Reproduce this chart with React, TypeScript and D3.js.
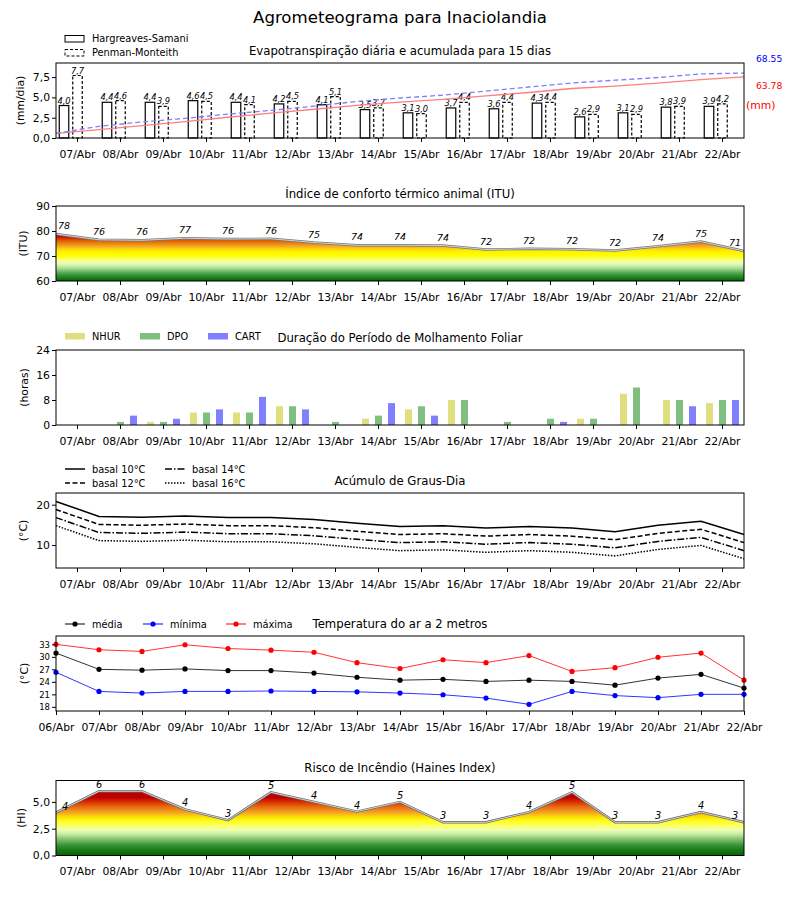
import { useEffect, useRef } from 'react';
import * as d3 from 'd3';

const FONT = 'DejaVu Sans';

const days = ['07/Abr', '08/Abr', '09/Abr', '10/Abr', '11/Abr', '12/Abr', '13/Abr', '14/Abr',
  '15/Abr', '16/Abr', '17/Abr', '18/Abr', '19/Abr', '20/Abr', '21/Abr', '22/Abr'];
const daysEdge = ['06/Abr', ...days];

// evapotranspiracao (mm/dia)
const etHargreaves = [4.0, 4.4, 4.4, 4.6, 4.4, 4.2, 4.1, 3.5, 3.1, 3.7, 3.6, 4.3, 2.6, 3.1, 3.8, 3.9];
const etPenman = [7.7, 4.6, 3.9, 4.5, 4.1, 4.5, 5.1, 3.7, 3.0, 4.4, 4.4, 4.4, 2.9, 2.9, 3.9, 4.2];
const etHargreavesAcum = [0, 4.0, 8.4, 12.8, 17.4, 21.8, 26.0, 30.1, 33.6, 36.7, 40.4, 44.0, 48.3, 50.9, 54.0, 57.8, 60.7];
const etPenmanAcum = [0, 7.7, 12.3, 16.2, 20.7, 24.8, 29.3, 34.4, 38.1, 41.1, 45.5, 49.9, 54.3, 57.2, 60.1, 64.0, 64.9];
const totalPenman = '68.55';
const totalHargreaves = '63.78';

// ITU
const itu = [78.8, 76.5, 76.3, 77.1, 76.8, 76.9, 75.4, 74.3, 74.3, 74.2, 72.6, 72.9, 72.7, 72.2, 73.9, 75.8, 72.0];
const ituLabels = [78, 76, 76, 77, 76, 76, 75, 74, 74, 74, 72, 72, 72, 72, 74, 75, 71];

// molhamento foliar (horas)
const nhur = [0, 0, 1, 4, 4, 6, 0, 2, 5, 8, 0, 0, 2, 10, 8, 7];
const dpo = [0, 1, 1, 4, 4, 6, 1, 3, 6, 8, 1, 2, 2, 12, 8, 8];
const cart = [0, 3, 2, 5, 9, 5, 0, 7, 3, 0, 0, 1, 0, 0, 6, 8];

// graus-dia
const gd10 = [20.8, 17.1, 16.9, 17.2, 16.8, 16.8, 16.3, 15.4, 14.6, 14.8, 14.2, 14.6, 14.2, 13.3, 14.9, 15.9, 12.6];
const gd12 = [18.8, 15.1, 14.9, 15.2, 14.8, 14.8, 14.3, 13.4, 12.6, 12.8, 12.2, 12.6, 12.2, 11.3, 12.9, 13.9, 10.6];
const gd14 = [16.8, 13.1, 12.9, 13.2, 12.8, 12.8, 12.3, 11.4, 10.6, 10.8, 10.2, 10.6, 10.2, 9.3, 10.9, 11.9, 8.6];
const gd16 = [14.8, 11.1, 10.9, 11.2, 10.8, 10.8, 10.3, 9.4, 8.6, 8.8, 8.2, 8.6, 8.2, 7.3, 8.9, 9.9, 6.6];

// temperatura (C)
const tMedia = [30.9, 27.0, 26.8, 27.1, 26.7, 26.7, 26.1, 25.1, 24.4, 24.6, 24.1, 24.4, 24.1, 23.2, 24.9, 25.8, 22.5];
const tMinima = [26.3, 21.7, 21.3, 21.7, 21.7, 21.8, 21.7, 21.6, 21.3, 20.9, 20.1, 18.6, 21.7, 20.7, 20.2, 21.0, 21.0];
const tMaxima = [33.0, 31.7, 31.3, 32.9, 32.0, 31.6, 31.1, 28.6, 27.2, 29.3, 28.6, 30.3, 26.5, 27.4, 29.9, 30.9, 24.4];

// Haines
const haines = [4.0, 6.0, 6.0, 4.3, 3.3, 5.9, 5.0, 4.1, 5.0, 3.1, 3.1, 4.05, 5.9, 3.1, 3.1, 4.05, 3.1];
const hainesLabels = [4, 6, 6, 4, 3, 5, 4, 4, 5, 3, 3, 4, 5, 3, 3, 4, 3];

const ituStops: [number, string][] = [
  [60, '#006400'], [61, '#147814'], [62, '#2c8c2c'], [63, '#4ca24c'], [64, '#78bc74'], [65, '#a4d890'],
  [66, '#cbeeaa'], [67, '#e6fbb8'], [68, '#f4ff98'], [69, '#fcff50'], [70, '#ffff00'], [72, '#fff000'],
  [73, '#fbcc10'], [74, '#f4a424'], [75, '#ec8410'], [76, '#e06400'], [77, '#d03400'], [78, '#c80000'], [90, '#c00000'],
];
const hainesStops: [number, string][] = [
  [0, '#006400'], [0.5, '#187818'], [1.0, '#3c963c'], [1.5, '#80c070'], [2.0, '#c8eca0'], [2.4, '#eeffb4'],
  [2.8, '#fcff60'], [3.2, '#ffff20'], [3.6, '#fce000'], [4.0, '#f4a424'], [4.5, '#e87010'], [5.0, '#d83000'],
  [5.4, '#c00000'], [7, '#b80000'],
];

const comma = (v: number) => d3.format('.1f')(v).replace('.', ',');

const App = () => {
  const ref = useRef<SVGSVGElement | null>(null);

  useEffect(() => {
    const svg = d3.select(ref.current);
    svg.selectAll('*').remove();

    const left = 56;
    const w = 688;
    const h = 75;
    const tops = [63, 206, 350, 493, 636, 780.5];

    const xBand = d3.scaleBand<string>().domain(days).range([0, w]);
    const xEdge = d3.scalePoint<string>().domain(daysEdge).range([0, w]);
    const cx = (d: string) => (xBand(d) as number) + xBand.bandwidth() / 2;
    const ex = (i: number) => xEdge(daysEdge[i]) as number;

    const defs = svg.append('defs');

    const panel = (top: number) => svg.append('g').attr('transform', `translate(${left},${top})`);

    const frame = (g: any) => g.append('rect')
      .attr('width', w).attr('height', h)
      .attr('fill', 'none').attr('stroke', '#000').attr('stroke-width', 1);

    const xAxis = (g: any, scale: any) => {
      const ax = g.append('g').attr('transform', `translate(0,${h})`)
        .call(d3.axisBottom(scale).tickSize(4).tickPadding(8));
      ax.select('.domain').remove();
      ax.attr('font-size', 10.8).attr('font-family', FONT);
    };

    const yAxis = (g: any, scale: any, ticks: number[], fmt: (v: number) => string, size = 10.8) => {
      const ax = g.append('g')
        .call(d3.axisLeft(scale).tickValues(ticks).tickFormat(fmt as any).tickSize(4).tickPadding(2));
      ax.select('.domain').remove();
      ax.attr('font-size', size).attr('font-family', FONT);
    };

    const yLabel = (g: any, label: string, x: number) => g.append('text')
      .attr('transform', `translate(${x},${h / 2}) rotate(-90)`)
      .attr('text-anchor', 'middle').attr('dy', '0.35em')
      .attr('font-family', FONT).attr('font-size', 10.8).text(label);

    const title = (top: number, label: string) => svg.append('text')
      .attr('x', 400).attr('y', top - 8.5).attr('text-anchor', 'middle')
      .attr('font-family', FONT).attr('font-size', 11.7).text(label);

    const gradient = (id: string, stops: [number, string][], scale: any) => {
      const [d0, d1] = scale.domain();
      const grad = defs.append('linearGradient').attr('id', id)
        .attr('gradientUnits', 'userSpaceOnUse')
        .attr('x1', 0).attr('x2', 0).attr('y1', scale(d0)).attr('y2', scale(d1));
      stops.forEach(([v, c]) => grad.append('stop')
        .attr('offset', (v - d0) / (d1 - d0)).attr('stop-color', c));
    };

    // main title
    svg.append('text').attr('x', 400).attr('y', 23).attr('text-anchor', 'middle')
      .attr('font-family', FONT).attr('font-size', 16.6).text('Agrometeograma para Inaciolandia');

    // ---- 1: evapotranspiracao
    {
      const g = panel(tops[0]);
      const y = d3.scaleLinear().domain([0, 9.24]).range([h, 0]);
      const yc = d3.scaleLinear().domain([-4.9, 75.7]).range([h, 0]);
      const bw = 9.5;
      days.forEach((d, i) => {
        const c = cx(d);
        g.append('rect').attr('x', c - 13.5 - bw / 2).attr('y', y(etHargreaves[i]))
          .attr('width', bw).attr('height', h - y(etHargreaves[i]))
          .attr('fill', '#fff').attr('stroke', '#000').attr('stroke-width', 1.2);
        g.append('rect').attr('x', c - bw / 2).attr('y', y(etPenman[i]))
          .attr('width', bw).attr('height', h - y(etPenman[i]))
          .attr('fill', '#fff').attr('stroke', '#000').attr('stroke-width', 1.2)
          .attr('stroke-dasharray', '3,2');
        g.append('text').attr('x', c - 13.5).attr('y', y(etHargreaves[i]) - 2)
          .attr('text-anchor', 'middle').attr('font-family', FONT).attr('font-size', 8.3)
          .attr('font-style', 'italic').text(comma(etHargreaves[i]));
        g.append('text').attr('x', c).attr('y', y(etPenman[i]) - 2)
          .attr('text-anchor', 'middle').attr('font-family', FONT).attr('font-size', 8.3)
          .attr('font-style', 'italic').text(comma(etPenman[i]));
      });
      const line = d3.line<number>().x((d, i) => ex(i)).y(d => yc(d));
      g.append('path').datum(etHargreavesAcum).attr('d', line)
        .attr('fill', 'none').attr('stroke', '#ff7f7f').attr('stroke-width', 1.3);
      g.append('path').datum(etPenmanAcum).attr('d', line)
        .attr('fill', 'none').attr('stroke', '#7f7fff').attr('stroke-width', 1.3)
        .attr('stroke-dasharray', '5,3');
      xAxis(g, xBand);
      yAxis(g, y, [0, 2.5, 5, 7.5], comma);
      yLabel(g, '(mm/dia)', -36);
      frame(g);

      svg.append('text').attr('x', 756).attr('y', 62).attr('font-family', FONT)
        .attr('font-size', 9.2).attr('fill', '#0000ff').text(totalPenman);
      svg.append('text').attr('x', 756).attr('y', 89).attr('font-family', FONT)
        .attr('font-size', 9.2).attr('fill', '#ff0000').text(totalHargreaves);
      svg.append('text').attr('x', 746).attr('y', 109).attr('font-family', FONT)
        .attr('font-size', 10.8).attr('fill', '#ff0000').text('(mm)');

      svg.append('rect').attr('x', 65).attr('y', 35.5).attr('width', 19).attr('height', 6.5)
        .attr('fill', '#fff').attr('stroke', '#000').attr('stroke-width', 1);
      svg.append('rect').attr('x', 65).attr('y', 49.5).attr('width', 19).attr('height', 6.5)
        .attr('fill', '#fff').attr('stroke', '#000').attr('stroke-width', 1).attr('stroke-dasharray', '3,2');
      svg.append('text').attr('x', 92).attr('y', 42).attr('font-family', FONT)
        .attr('font-size', 9.8).text('Hargreaves-Samani');
      svg.append('text').attr('x', 92).attr('y', 56).attr('font-family', FONT)
        .attr('font-size', 9.8).text('Penman-Monteith');
      title(tops[0], 'Evapotranspiração diária e acumulada para 15 dias');
    }

    // ---- 2: ITU
    {
      const g = panel(tops[1]);
      const y = d3.scaleLinear().domain([60, 90]).range([h, 0]);
      gradient('gradITU', ituStops, y);
      const area = d3.area<number>().x((d, i) => ex(i)).y0(h).y1(d => y(d));
      const line = d3.line<number>().x((d, i) => ex(i)).y(d => y(d));
      g.append('path').datum(itu).attr('d', area).attr('fill', 'url(#gradITU)');
      g.append('path').datum(itu).attr('d', line).attr('fill', 'none')
        .attr('stroke', '#7a7a7a').attr('stroke-width', 2.4);
      g.append('path').datum(itu).attr('d', line).attr('fill', 'none')
        .attr('stroke', '#e6e6e6').attr('stroke-width', 0.8);
      itu.forEach((v, i) => {
        const dx = i === 0 ? 8 : i === itu.length - 1 ? -9 : 0;
        g.append('text').attr('x', ex(i) + dx).attr('y', y(v) - 5)
          .attr('text-anchor', 'middle').attr('font-family', FONT).attr('font-size', 9.5)
          .attr('font-style', 'italic').text(ituLabels[i]);
      });
      xAxis(g, xBand);
      yAxis(g, y, [60, 70, 80, 90], d => String(d));
      yLabel(g, '(ITU)', -33);
      frame(g);
      title(tops[1], 'Índice de conforto térmico animal (ITU)');
    }

    // ---- 3: molhamento foliar
    {
      const g = panel(tops[2]);
      const y = d3.scaleLinear().domain([0, 24]).range([h, 0]);
      const series: [number[], string, number][] = [[nhur, '#dfdf80', -13], [dpo, '#80bf80', 0], [cart, '#8080ff', 13]];
      const bw = 7;
      series.forEach(([vals, color, off]) => {
        g.selectAll(null).data(vals).enter().append('rect')
          .attr('x', (d, i) => cx(days[i]) + off - bw / 2)
          .attr('y', d => y(d)).attr('width', bw).attr('height', d => h - y(d))
          .attr('fill', color);
      });
      xAxis(g, xBand);
      yAxis(g, y, [0, 8, 16, 24], d => String(d));
      yLabel(g, '(horas)', -32);
      frame(g);
      const legend: [string, string, number][] = [['NHUR', '#dfdf80', 65], ['DPO', '#80bf80', 140], ['CART', '#8080ff', 208]];
      legend.forEach(([name, color, x]) => {
        svg.append('rect').attr('x', x).attr('y', 333).attr('width', 20).attr('height', 6.5).attr('fill', color);
        svg.append('text').attr('x', x + 27).attr('y', 340).attr('font-family', FONT)
          .attr('font-size', 9.8).text(name);
      });
      title(tops[2], 'Duração do Período de Molhamento Foliar');
    }

    // ---- 4: graus-dia
    {
      const g = panel(tops[3]);
      const y = d3.scaleLinear().domain([4.3, 22.9]).range([h, 0]);
      const line = d3.line<number>().x((d, i) => ex(i)).y(d => y(d));
      const series: [number[], string, string, number, number][] = [
        [gd10, 'basal 10°C', '', 65, 469],
        [gd12, 'basal 12°C', '5,2.5', 65, 483],
        [gd14, 'basal 14°C', '7,2,1.5,2', 165, 469],
        [gd16, 'basal 16°C', '1.5,1.5', 165, 483],
      ];
      series.forEach(([vals, name, dash, lx, ly]) => {
        g.append('path').datum(vals).attr('d', line).attr('fill', 'none')
          .attr('stroke', '#000').attr('stroke-width', 1.5).attr('stroke-dasharray', dash || null);
        svg.append('line').attr('x1', lx).attr('x2', lx + 20).attr('y1', ly).attr('y2', ly)
          .attr('stroke', '#000').attr('stroke-width', 1.5).attr('stroke-dasharray', dash || null);
        svg.append('text').attr('x', lx + 27).attr('y', ly + 3.5).attr('font-family', FONT)
          .attr('font-size', 9.8).text(name);
      });
      xAxis(g, xBand);
      yAxis(g, y, [10, 20], d => String(d));
      yLabel(g, '(°C)', -33);
      frame(g);
      title(tops[3], 'Acúmulo de Graus-Dia');
    }

    // ---- 5: temperatura
    {
      const g = panel(tops[4]);
      const y = d3.scaleLinear().domain([17, 35]).range([h, 0]);
      const line = d3.line<number>().x((d, i) => ex(i)).y(d => y(d));
      const series: [number[], string, string, number][] = [
        [tMedia, 'média', '#000000', 65],
        [tMinima, 'mínima', '#0000ff', 143],
        [tMaxima, 'máxima', '#ff0000', 226],
      ];
      series.forEach(([vals, name, color, lx]) => {
        g.append('path').datum(vals).attr('d', line).attr('fill', 'none')
          .attr('stroke', color).attr('stroke-width', 1).attr('stroke-opacity', 0.8);
        g.selectAll(null).data(vals).enter().append('circle')
          .attr('cx', (d, i) => ex(i)).attr('cy', d => y(d)).attr('r', 2.6).attr('fill', color);
        svg.append('line').attr('x1', lx).attr('x2', lx + 20).attr('y1', 624).attr('y2', 624)
          .attr('stroke', color).attr('stroke-width', 1);
        svg.append('circle').attr('cx', lx + 10).attr('cy', 624).attr('r', 2.6).attr('fill', color);
        svg.append('text').attr('x', lx + 27).attr('y', 627.5).attr('font-family', FONT)
          .attr('font-size', 9.8).text(name);
      });
      xAxis(g, xEdge);
      yAxis(g, y, [18, 21, 24, 27, 30, 33], d => String(d), 8.5);
      yLabel(g, '(°C)', -32);
      frame(g);
      title(tops[4], 'Temperatura do ar a 2 metros');
    }

    // ---- 6: Haines
    {
      const g = panel(tops[5]);
      const y = d3.scaleLinear().domain([0, 7]).range([h, 0]);
      gradient('gradHI', hainesStops, y);
      const area = d3.area<number>().x((d, i) => ex(i)).y0(h).y1(d => y(d));
      const line = d3.line<number>().x((d, i) => ex(i)).y(d => y(d));
      g.append('path').datum(haines).attr('d', area).attr('fill', 'url(#gradHI)');
      g.append('path').datum(haines).attr('d', line).attr('fill', 'none')
        .attr('stroke', '#6a6a6a').attr('stroke-width', 2.4);
      g.append('path').datum(haines).attr('d', line).attr('fill', 'none')
        .attr('stroke', '#f0f0f0').attr('stroke-width', 0.8);
      haines.forEach((v, i) => {
        const dx = i === 0 ? 9 : i === haines.length - 1 ? -9 : 0;
        g.append('text').attr('x', ex(i) + dx).attr('y', y(v) - 3)
          .attr('text-anchor', 'middle').attr('font-family', FONT).attr('font-size', 9.8)
          .attr('font-style', 'italic').text(hainesLabels[i]);
      });
      xAxis(g, xBand);
      yAxis(g, y, [0, 2.5, 5], comma);
      yLabel(g, '(HI)', -35);
      frame(g);
      title(tops[5], 'Risco de Incêndio (Haines Index)');
    }
  }, []);

  return (
    <svg ref={ref} width={800} height={900}
      style={{ position: 'absolute', left: 0, top: 0, background: '#fff' }} />
  );
};

export default App;
